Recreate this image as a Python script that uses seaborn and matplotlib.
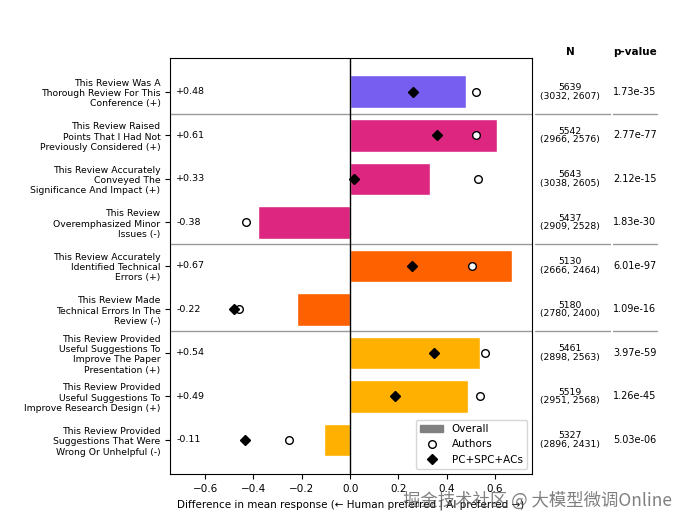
import numpy as np
import pandas as pd
import matplotlib
matplotlib.use("Agg")
import matplotlib.pyplot as plt
import seaborn as sns
from matplotlib.patches import Patch
from matplotlib.lines import Line2D

# data
questions = [
    "This Review Was A\nThorough Review For This\nConference (+)",
    "This Review Raised\nPoints That I Had Not\nPreviously Considered (+)",
    "This Review Accurately\nConveyed The\nSignificance And Impact (+)",
    "This Review\nOveremphasized Minor\nIssues (-)",
    "This Review Accurately\nIdentified Technical\nErrors (+)",
    "This Review Made\nTechnical Errors In The\nReview (-)",
    "This Review Provided\nUseful Suggestions To\nImprove The Paper\nPresentation (+)",
    "This Review Provided\nUseful Suggestions To\nImprove Research Design (+)",
    "This Review Provided\nSuggestions That Were\nWrong Or Unhelpful (-)",
]
overall = [0.48, 0.61, 0.33, -0.38, 0.67, -0.22, 0.54, 0.49, -0.11]
authors = [0.52, 0.52, 0.53, -0.43, 0.505, -0.46, 0.56, 0.537, -0.254]
pc_acs = [0.26, 0.36, 0.018, np.nan, 0.258, -0.479, 0.348, 0.185, -0.436]
n_total = [5639, 5542, 5643, 5437, 5130, 5180, 5461, 5519, 5327]
n_split = ["(3032, 2607)", "(2966, 2576)", "(3038, 2605)", "(2909, 2528)", "(2666, 2464)",
           "(2780, 2400)", "(2898, 2563)", "(2951, 2568)", "(2896, 2431)"]
p_values = ["1.73e-35", "2.77e-77", "2.12e-15", "1.83e-30", "6.01e-97",
            "1.09e-16", "3.97e-59", "1.26e-45", "5.03e-06"]
bar_colors = ["#785EF0", "#DC267F", "#DC267F", "#DC267F", "#FE6100",
              "#FE6100", "#FFB000", "#FFB000", "#FFB000"]
group_breaks = [0.5, 3.5, 5.5]

sns.set_style("ticks")
plt.rcParams['font.family'] = ['DejaVu Sans']
plt.rcParams.update({'text.color': 'black', 'axes.labelcolor': 'black',
                     'xtick.color': 'black', 'ytick.color': 'black'})

df = pd.DataFrame({"question": questions, "overall": overall})

fig, ax = plt.subplots(figsize=(6.89, 5.26), dpi=100)
fig.subplots_adjust(left=0.247, right=0.772, top=0.890, bottom=0.099)

sns.barplot(data=df, x="overall", y="question", hue="question", palette=bar_colors,
            width=0.75, legend=False, ax=ax, saturation=1)

pos = np.arange(len(questions))
ax.plot(authors, pos, 'o', mfc='white', mec='black', ms=5.5, mew=1, ls='none', zorder=4)
ax.plot(pc_acs, pos, 'D', color='black', ms=5.5, ls='none', zorder=5)

ax.axvline(0, color='black', lw=1, zorder=3)
for b in group_breaks:
    ax.axhline(b, color='#999999', lw=1, zorder=1)
    ax.plot([1.008, 1.215], [b, b], color='#999999', lw=1,
            transform=ax.get_yaxis_transform(), clip_on=False)
    ax.plot([1.224, 1.345], [b, b], color='#999999', lw=1,
            transform=ax.get_yaxis_transform(), clip_on=False)

for i, v in enumerate(overall):
    ax.text(-0.72, i, f"{v:+.2f}", va='center', ha='left', fontsize=6.8)
    ax.text(1.105, i, f"{n_total[i]}\n{n_split[i]}", va='center', ha='center', fontsize=6.7,
            linespacing=0.95, transform=ax.get_yaxis_transform(), clip_on=False)
    ax.text(1.225, i, p_values[i], va='center', ha='left', fontsize=7,
            transform=ax.get_yaxis_transform(), clip_on=False)

ax.text(1.105, -0.92, "N", ha='center', va='center', fontsize=7.5, fontweight='bold',
        transform=ax.get_yaxis_transform(), clip_on=False)
ax.text(1.285, -0.92, "p-value", ha='center', va='center', fontsize=7.5, fontweight='bold',
        transform=ax.get_yaxis_transform(), clip_on=False)

ax.set_xlim(-0.745, 0.753)
ax.set_ylim(8.78, -0.78)
ax.set_xticks([-0.6, -0.4, -0.2, 0.0, 0.2, 0.4, 0.6])
ax.tick_params(axis='x', labelsize=7.5)
ax.tick_params(axis='y', labelsize=6.7)
ax.set_ylabel("")
ax.set_xlabel("Difference in mean response (\u2190 Human preferred | AI preferred \u2192)", fontsize=7.5)
for s in ax.spines.values():
    s.set_visible(True)
    s.set_color('black')
    s.set_linewidth(0.8)

handles = [Patch(color='grey', label='Overall'),
           Line2D([], [], marker='o', mfc='white', mec='black', ls='none', ms=5.5, label='Authors'),
           Line2D([], [], marker='D', color='black', ls='none', ms=5.5, label='PC+SPC+ACs')]
ax.legend(handles=handles, loc='lower right', fontsize=7.5, handlelength=2.2)

fig.text(0.78, 0.048, "掘金技术社区 @ 大模型微调Online", ha='center', va='center', fontsize=12.5,
         color='#555555', alpha=0.75, family=['Noto Sans CJK SC', 'DejaVu Sans'])

fig.savefig("out.png", dpi=100)
